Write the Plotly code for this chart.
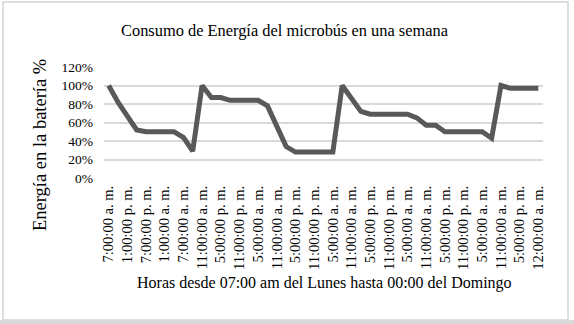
import plotly.graph_objects as go

# ---- data ----
categories = [
    "7:00:00 a. m.", "10:00:00 a. m.", "1:00:00 p. m.", "4:00:00 p. m.", "7:00:00 p. m.",
    "10:00:00 p. m.", "1:00:00 a. m.", "4:00:00 a. m.", "7:00:00 a. m.", "9:00:00 a. m.",
    "11:00:00 a. m.", "2:00:00 p. m.", "5:00:00 p. m.", "8:00:00 p. m.", "11:00:00 p. m.",
    "2:00:00 a. m.", "5:00:00 a. m.", "8:00:00 a. m.", "11:00:00 a. m.", "2:00:00 p. m.",
    "5:00:00 p. m.", "8:00:00 p. m.", "11:00:00 p. m.", "2:00:00 a. m.", "5:00:00 a. m.",
    "8:00:00 a. m.", "11:00:00 a. m.", "2:00:00 p. m.", "5:00:00 p. m.", "8:00:00 p. m.",
    "11:00:00 p. m.", "2:00:00 a. m.", "5:00:00 a. m.", "8:00:00 a. m.", "11:00:00 a. m.",
    "2:00:00 p. m.", "5:00:00 p. m.", "8:00:00 p. m.", "11:00:00 p. m.", "2:00:00 a. m.",
    "5:00:00 a. m.", "8:00:00 a. m.", "11:00:00 a. m.", "2:00:00 p. m.", "5:00:00 p. m.",
    "8:30:00 p. m.", "12:00:00 a. m.",
]
energia_pct = [
    100, 82, 67, 52, 50, 50, 50, 50, 44, 29,
    100, 87, 87, 84, 84, 84, 84, 78, 56, 34,
    28, 28, 28, 28, 28, 100, 86, 72, 69, 69,
    69, 69, 69, 65, 57, 57, 50, 50, 50, 50,
    50, 43, 100, 97, 97, 97, 97,
]
y_ticks = [0, 20, 40, 60, 80, 100, 120]
y_tick_labels = [f"{v}%" for v in y_ticks]

title_text = "Consumo de Energía del microbús en una semana"
x_title = "Horas desde 07:00 am del Lunes hasta 00:00 del Domingo"
y_title = "Energía en la batería %"

# ---- layout geometry (pixels) ----
W, H = 574, 324
L, R, T, B = 104, 31, 67, 146
pw, ph = W - L - R, H - T - B

def px(x):
    return (x - L) / pw

def py(y):
    return (H - B - y) / ph

FONT = "Liberation Serif, Times New Roman, serif"

xs = list(range(len(categories)))
fig = go.Figure()
fig.add_trace(go.Scatter(
    x=xs, y=[v / 100 for v in energia_pct], mode="lines",
    line=dict(color="#595959", width=5, shape="linear"),
    hoverinfo="skip", showlegend=False,
))

fig.update_layout(
    width=W, height=H,
    margin=dict(l=L, r=R, t=T, b=B, pad=0),
    paper_bgcolor="white", plot_bgcolor="white",
    font=dict(family=FONT, color="#000000"),
    xaxis=dict(
        range=[-0.5, len(categories) - 0.5],
        tickmode="array", tickvals=xs[::2], ticktext=categories[::2],
        tickangle=-90, tickfont=dict(size=14.5, family=FONT, color="#000"),
        showgrid=False, zeroline=False, showline=False, ticks="", ticklen=0,
        ticklabelstandoff=4,
    ),
    yaxis=dict(
        range=[0, 1.2],
        tickmode="array", tickvals=[v / 100 for v in y_ticks], ticktext=y_tick_labels,
        tickfont=dict(size=13.5, family=FONT, color="#000"),
        showgrid=True, gridcolor="#d9d9d9", gridwidth=1.5,
        zeroline=False, showline=False, ticks="", ticklabelstandoff=10,
    ),
    annotations=[
        dict(text=title_text, xref="paper", yref="paper", x=px(285), y=py(30),
             showarrow=False, xanchor="center", yanchor="middle",
             font=dict(size=16.4, family=FONT, color="#000")),
        dict(text=x_title, xref="paper", yref="paper", x=px(324), y=py(283),
             showarrow=False, xanchor="center", yanchor="middle",
             font=dict(size=16, family=FONT, color="#000")),
        dict(text=y_title, xref="paper", yref="paper", x=px(40), y=py(145),
             showarrow=False, xanchor="center", yanchor="middle", textangle=-90,
             font=dict(size=18.5, family=FONT, color="#000")),
    ],
    shapes=[
        dict(type="rect", xref="paper", yref="paper",
             x0=px(3), x1=px(568), y0=py(320), y1=py(2),
             line=dict(color="#d4d4d4", width=1.5), fillcolor="rgba(0,0,0,0)", layer="below"),
        dict(type="rect", xref="paper", yref="paper",
             x0=px(0), x1=px(574), y0=py(324), y1=py(320),
             line=dict(width=0), fillcolor="#d9d9d9", layer="below"),
    ],
)

fig.write_html("out.html")
